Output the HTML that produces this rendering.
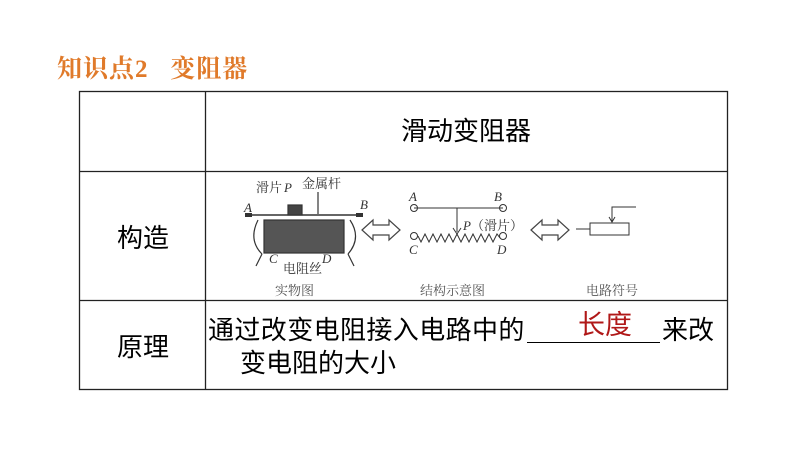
<!DOCTYPE html>
<html><head><meta charset="utf-8"><style>
body{margin:0;width:800px;height:450px;background:#fff;position:relative;overflow:hidden;font-family:"Liberation Serif","Noto Serif CJK SC",serif}
.t{position:absolute;white-space:nowrap;line-height:1}
.s{font-family:'Liberation Sans','Noto Sans CJK SC',sans-serif}
</style></head><body>
<div class="t" style="left:57px;top:57px;font-size:25px;color:#e07a2a;font-weight:bold;letter-spacing:1px">知识点2&nbsp;&nbsp;&nbsp;变阻器</div>
<svg width="800" height="450" style="position:absolute;left:0;top:0" font-family="Liberation Serif, Noto Serif CJK SC, serif">
<g stroke="#222" stroke-width="1.3" fill="none">
<rect x="79.5" y="91.5" width="648" height="298"/>
<line x1="205.5" y1="91" x2="205.5" y2="390"/>
<line x1="79" y1="171.5" x2="728" y2="171.5"/>
<line x1="79" y1="300.5" x2="728" y2="300.5"/>
</g>
<g stroke="#333" fill="none" stroke-width="1.2">
<line x1="250" y1="215" x2="358" y2="215" stroke-width="1.6"/>
<rect x="264" y="220" width="80" height="33" fill="#555" stroke="#333"/>
<rect x="288" y="205" width="14" height="10" fill="#444"/>
<path d="M258 220 q-10 20 4 34 M350 220 q12 18 -2 34"/>
<line x1="262" y1="254" x2="256" y2="266"/><line x1="348" y1="254" x2="354" y2="266"/>
<line x1="252" y1="215" x2="245" y2="215" stroke-width="4"/><line x1="356" y1="215" x2="363" y2="215" stroke-width="4"/>
<line x1="318" y1="192" x2="318" y2="214"/>
</g>
<g font-size="13" fill="#333" font-style="italic">
<text x="244" y="212">A</text><text x="360" y="209">B</text>
<text x="269" y="263">C</text><text x="322" y="263">D</text>
<text x="284" y="192">P</text>
</g>
<g font-size="13" fill="#333">
<text x="256" y="192">滑片</text><text x="302" y="188">金属杆</text><text x="283" y="273">电阻丝</text>
<text x="275" y="295" fill="#555">实物图</text>
<text x="420" y="295" fill="#555">结构示意图</text>
<text x="586" y="295" fill="#555">电路符号</text>
</g>
<g stroke="#444" fill="#fff" stroke-width="1.2">
<path d="M362 230 l11 -10 v5 h16 v-5 l11 10 l-11 10 v-5 h-16 v5 z"/>
<path d="M531 230 l11 -10 v5 h16 v-5 l11 10 l-11 10 v-5 h-16 v5 z"/>
</g>
<g stroke="#333" fill="none" stroke-width="1">
<line x1="414" y1="208" x2="503" y2="208"/>
<circle cx="414" cy="208" r="3.5"/><circle cx="503" cy="208" r="3.5"/>
<circle cx="414" cy="236" r="3.5"/><circle cx="503" cy="236" r="3.5"/>
<line x1="457" y1="208" x2="457" y2="232"/>
<path d="M453 228 l4 6 l4 -6"/>
<polyline points="418,236 421,242 425,234 429,242 433,234 437,242 441,234 445,242 449,234 453,242 457,234 461,242 465,234 469,242 473,234 477,242 481,234 485,242 489,234 493,242 497,234 500,238"/>
<line x1="576" y1="229" x2="590" y2="229"/>
<rect x="590" y="223" width="39" height="12"/>
<polyline points="636,207 612,207 612,221"/>
<path d="M609 217 l3 5 l3 -5"/>
</g>
<g font-size="13" fill="#333">
<text x="409" y="201" font-style="italic">A</text><text x="494" y="201" font-style="italic">B</text>
<text x="409" y="254" font-style="italic">C</text><text x="497" y="254" font-style="italic">D</text>
<text x="463" y="230"><tspan font-style="italic">P</tspan>（滑片）</text>
</g>
</svg>
<div class="t s" style="left:401px;top:118px;font-size:26px">滑动变阻器</div>
<div class="t s" style="left:117px;top:225px;font-size:26px">构造</div>
<div class="t s" style="left:117px;top:334px;font-size:26px">原理</div>
<div class="t s" style="left:208px;top:317px;font-size:26px;letter-spacing:0.4px">通过改变电阻接入电路中的</div>
<div style="position:absolute;left:527px;top:342px;width:133px;border-top:1.5px solid #000"></div>
<div class="t s" style="left:662px;top:317px;font-size:26px">来改</div>
<div class="t s" style="left:578px;top:312px;font-size:27px;color:#b01818">长度</div>
<div class="t s" style="left:240px;top:350px;font-size:26px">变电阻的大小</div>
</body></html>
